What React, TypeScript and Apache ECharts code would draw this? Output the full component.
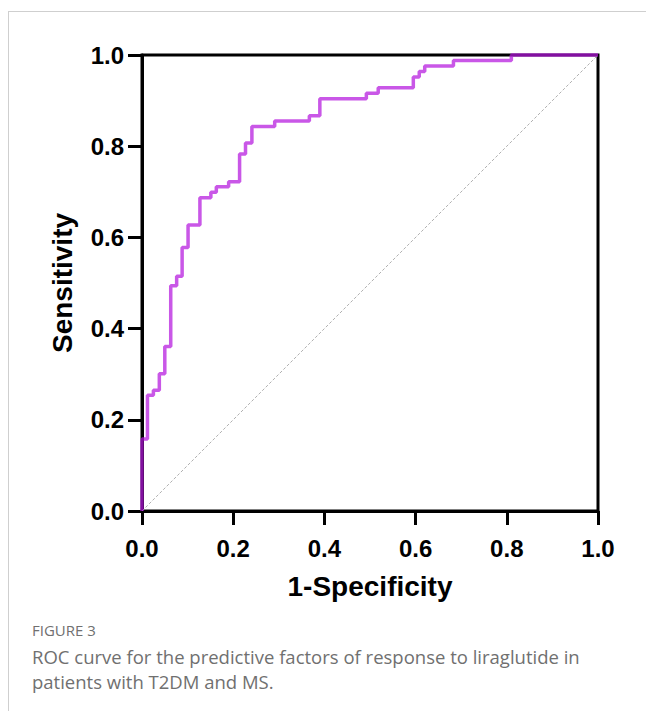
import React, { useEffect, useRef } from 'react';
import * as echarts from 'echarts';

// ROC curve: each point ends a horizontal segment (fpr) at level tpr
const fpr = [0, 0.012, 0.025, 0.038, 0.05, 0.063, 0.076, 0.088, 0.101, 0.127, 0.151, 0.163, 0.19, 0.214, 0.227, 0.241, 0.291, 0.367, 0.39, 0.492, 0.518, 0.595, 0.608, 0.62, 0.683, 0.81, 1.0];
const tpr = [0, 0.158, 0.254, 0.265, 0.301, 0.361, 0.494, 0.515, 0.578, 0.627, 0.687, 0.699, 0.711, 0.722, 0.783, 0.807, 0.843, 0.855, 0.867, 0.904, 0.916, 0.928, 0.952, 0.964, 0.976, 0.988, 1.0];
const chanceFpr = [0, 1];
const chanceTpr = [0, 1];

const xAxisTitle = '1-Specificity';
const yAxisTitle = 'Sensitivity';
const figureLabel = 'FIGURE 3';
const captionLines = [
  'ROC curve for the predictive factors of response to liraglutide in',
  'patients with T2DM and MS.',
];

export default function App() {
  const ref = useRef<HTMLDivElement>(null);
  useEffect(() => {
    const chart = echarts.init(ref.current!, null, { renderer: 'svg' });
    const tickFont = { fontFamily: 'Liberation Sans', fontWeight: 'bold', fontSize: 24, color: '#000' };
    const nameFont = { fontFamily: 'Liberation Sans', fontWeight: 'bold', fontSize: 28, color: '#000' };
    chart.setOption({
      animation: false,
      backgroundColor: '#fff',
      grid: {
        left: 142, top: 55, width: 456, height: 456,
        show: true, borderColor: '#000', borderWidth: 3, backgroundColor: 'transparent',
        containLabel: false, outerBoundsMode: 'none',
      },
      xAxis: {
        type: 'value', min: 0, max: 1, interval: 0.2,
        name: xAxisTitle, nameLocation: 'middle', nameGap: 61, nameTextStyle: nameFont,
        axisLine: { show: true, lineStyle: { color: '#000', width: 3 } },
        axisTick: { show: true, length: 14, lineStyle: { color: '#000', width: 3 } },
        axisLabel: { ...tickFont, margin: 25, formatter: (v: number) => v.toFixed(1) },
        splitLine: { show: false },
      },
      yAxis: {
        type: 'value', min: 0, max: 1, interval: 0.2,
        name: yAxisTitle, nameLocation: 'middle', nameGap: 66, nameTextStyle: nameFont,
        axisLine: { show: true, lineStyle: { color: '#000', width: 3 } },
        axisTick: { show: true, length: 14, lineStyle: { color: '#000', width: 3 } },
        axisLabel: { ...tickFont, margin: 18, formatter: (v: number) => v.toFixed(1) },
        splitLine: { show: false },
      },
      series: [
        {
          type: 'line',
          data: chanceFpr.map((x, i) => [x, chanceTpr[i]]),
          showSymbol: false, symbol: 'none', silent: true, z: 1,
          lineStyle: { color: '#b0b0b0', width: 1, type: [3, 2] },
        },
        {
          type: 'line',
          step: 'start',
          data: fpr.map((x, i) => [x, tpr[i]]),
          showSymbol: false, symbol: 'none', clip: false, z: 3,
          lineStyle: { color: '#b416de', width: 3.5, opacity: 0.72 },
        },
      ],
      graphic: [
        { type: 'line', shape: { x1: 8, y1: 11.5, x2: 646, y2: 11.5 }, style: { stroke: '#cfcfcf', lineWidth: 1 } },
        { type: 'line', shape: { x1: 8.5, y1: 11, x2: 8.5, y2: 711 }, style: { stroke: '#cfcfcf', lineWidth: 1 } },
        { type: 'text', x: 32, y: 630, style: { text: figureLabel, font: '500 15px "Open Sans"', fill: '#707070', verticalAlign: 'middle' } },
        ...captionLines.map((t, i) => ({
          type: 'text', x: 32, y: 656 + i * 25,
          style: { text: t, font: '18.5px "Open Sans"', fill: '#707070', verticalAlign: 'middle' },
        })),
      ],
    });
    return () => chart.dispose();
  }, []);
  return <div ref={ref} style={{ position: 'absolute', left: 0, top: 0, width: 646, height: 711, background: '#fff' }} />;
}
